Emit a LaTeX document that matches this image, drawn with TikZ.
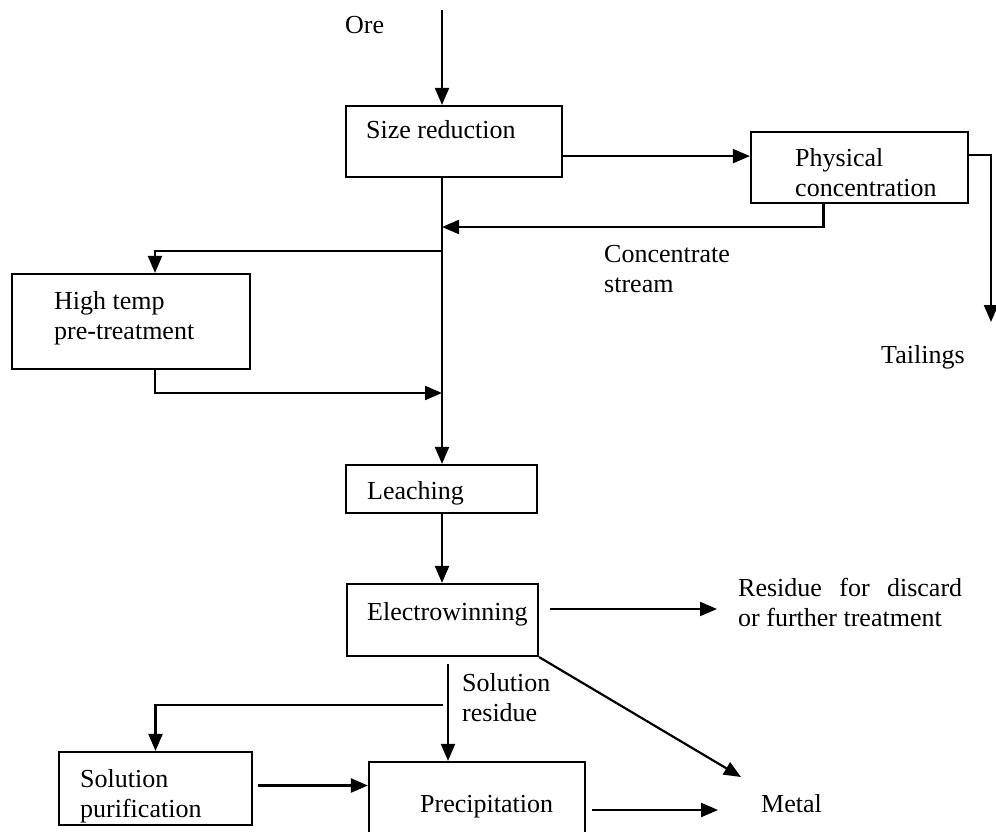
\documentclass[tikz,border=0pt]{standalone}
\usepackage{fontspec}
\setmainfont{Liberation Serif}
\usetikzlibrary{arrows.meta,calc}
\newcommand\tlbl[2]{\vtop{\hbox{#1}\hbox{#2}}}
\begin{document}
\begin{tikzpicture}[x=1pt,y=-1pt,
  box/.style={draw,line width=2.2pt,inner sep=0pt},
  arr/.style={line width=2.2pt,-{Triangle[length=17pt,width=14pt]}},
  txt/.style={anchor=base west,inner sep=0pt,font=\fontsize{26}{30}\selectfont}]
\useasboundingbox (0,0) rectangle (996,832);
\clip (0,0) rectangle (996,832);
% boxes
\node[box,minimum width=216pt,minimum height=71pt] (SR) at (454,141.5) {};
\node[box,minimum width=217pt,minimum height=71pt] (PC) at (859.5,167.5) {};
\node[box,minimum width=238pt,minimum height=95pt] (HT) at (131,321.5) {};
\node[box,minimum width=191pt,minimum height=48pt] (LE) at (441.5,489) {};
\node[box,minimum width=191pt,minimum height=72pt] (EW) at (442.5,620) {};
\node[box,minimum width=193pt,minimum height=73pt] (SP) at (155.5,788.5) {};
\node[box,minimum width=216pt,minimum height=90pt] (PR) at (477,807) {};
% texts
\node[txt] (tOre) at (345,34) {Ore};
\node[txt] (tSR) at (366,139) {Size reduction};
\node[txt] (tPC) at (795,166) {\tlbl{Physical}{concentration}};
\node[txt] (tCS) at (604,262) {\tlbl{Concentrate}{stream}};
\node[txt] (tTa) at (881,363) {Tailings};
\node[txt] (tHT) at (54,309) {\tlbl{High temp}{pre-treatment}};
\node[txt] (tLE) at (367,499) {Leaching};
\node[txt] (tEW) at (367,620) {Electrowinning};
\node[txt] (tRe) at (738,596) {\tlbl{\makebox[224pt][s]{Residue for discard}}{or further treatment}};
\node[txt] (tSR2) at (462,691) {\tlbl{Solution}{residue}};
\node[txt] (tSP) at (80,787) {\tlbl{Solution}{purification}};
\node[txt] (tPR) at (420,812) {Precipitation};
\node[txt] (tMe) at (761,812) {Metal};
% coordinates
\coordinate (oreT) at (442,10);
\coordinate (tail) at (991,322);
\coordinate (j1) at (442,227);
\coordinate (j2) at (442,251);
\coordinate (j3) at (442,393);
\coordinate (m) at (442,0);
\coordinate (resS) at (550,609);
\coordinate (resE) at (717,609);
\coordinate (metA) at (741,777);
\coordinate (srS) at (448,664);
\coordinate (j4) at (443,705);
\coordinate (prS) at (592,810);
\coordinate (metB) at (718,810);
% connectors
\draw[arr] (oreT) -- (oreT |- SR.north);
\draw[arr] ([yshift=22pt]SR.south east) -- ([yshift=22pt]SR.south east -| PC.west);
\draw[arr] ([yshift=-24pt]PC.north east) -| (tail);
\draw[arr] ([xshift=-36pt]PC.south) |- (j1);
\draw[arr] (m |- SR.south) -- (m |- LE.north);
\draw[arr] (j2) -| ([xshift=24pt]HT.north);
\draw[arr] ([xshift=24pt]HT.south) |- (j3);
\draw[arr] (m |- LE.south) -- (m |- EW.north);
\draw[arr] (resS) -- (resE);
\draw[arr] (EW.south east) -- (metA);
\draw[arr] (srS) -- (srS |- PR.north);
\draw[arr] (j4) -| (SP.north);
\draw[arr] ([xshift=5pt,yshift=3pt]SP.east) -- ([yshift=3pt]SP.east -| PR.west);
\draw[arr] (prS) -- (metB);
\end{tikzpicture}
\end{document}
